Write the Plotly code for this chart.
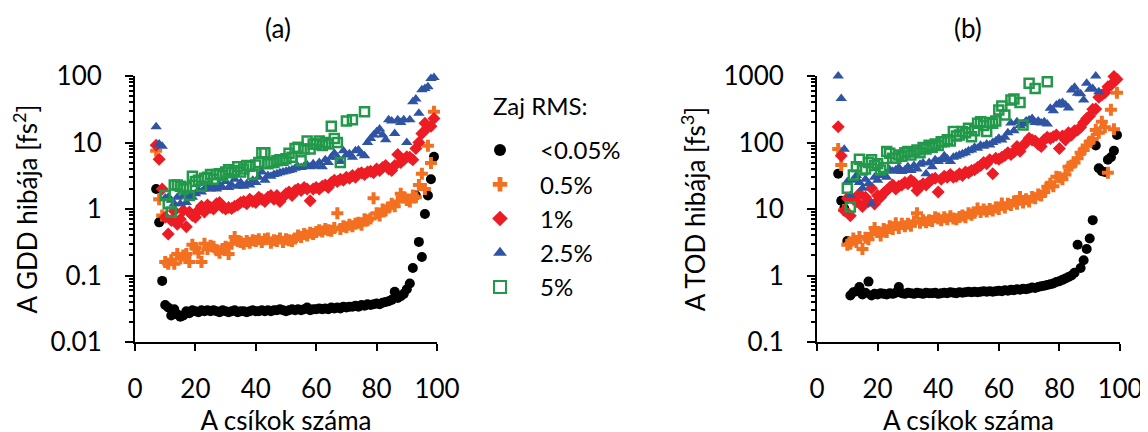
import plotly.graph_objects as go

# ---------------- data: panel (a) GDD error [fs^2] ----------------
x_a = list(range(7, 100))
gdd_black = [2.0, 0.63, 0.083, 0.036, 0.033, 0.025, 0.031, 0.026, 0.024, 0.025,
             0.029, 0.027, 0.030, 0.029, 0.028, 0.030, 0.029, 0.030, 0.029, 0.030,
             0.029, 0.028, 0.030, 0.029, 0.028, 0.029, 0.030, 0.028, 0.029, 0.029,
             0.028, 0.029, 0.030, 0.029, 0.029, 0.030, 0.029, 0.030, 0.029, 0.030,
             0.030, 0.031, 0.030, 0.029, 0.030, 0.031, 0.030, 0.031, 0.030, 0.031,
             0.033, 0.030, 0.031, 0.031, 0.032, 0.031, 0.032, 0.031, 0.033, 0.032,
             0.033, 0.032, 0.034, 0.033, 0.034, 0.034, 0.035, 0.034, 0.036, 0.035,
             0.037, 0.036, 0.037, 0.038, 0.037, 0.039, 0.040, 0.041, 0.043, 0.057,
             0.046, 0.049, 0.053, 0.062, 0.076, 0.13, 1.6, 0.32, 0.19, 0.84,
             1.6, 2.8, 6.1]
gdd_orange = [7.5, 1.4, 0.8, 0.16, 0.15, 0.17, 0.15, 0.21, 0.18, 0.20,
              0.21, 0.16, 0.29, 0.26, 0.22, 0.16, 0.30, 0.25, 0.28, 0.27,
              0.24, 0.22, 0.25, 0.27, 0.21, 0.30, 0.38, 0.33, 0.32, 0.30,
              0.33, 0.31, 0.34, 0.33, 0.35, 0.32, 0.35, 0.36, 0.31, 0.34,
              0.33, 0.36, 0.32, 0.35, 0.34, 0.33, 0.36, 0.40, 0.38, 0.42,
              0.40, 0.44, 0.42, 0.45, 0.48, 0.46, 0.50, 0.48, 0.47, 0.52,
              0.86, 0.50, 0.55, 0.53, 0.58, 0.55, 0.60, 0.62, 0.58, 0.70,
              0.68, 0.72, 1.45, 0.86, 0.80, 0.98, 0.95, 1.05, 1.2, 1.1,
              1.3, 1.7, 1.5, 1.37, 1.3, 1.6, 1.5, 2.3, 3.4, 2.0,
              8.9, 4.9, 29.0]
gdd_red = [9.1, 5.6, 2.0, 0.75, 0.42, 0.67, 0.93, 0.59, 0.70, 0.95,
           0.54, 0.90, 0.80, 0.75, 0.95, 1.10, 0.90, 1.15, 1.05, 1.00,
           1.20, 1.25, 1.05, 1.00, 1.05, 1.02, 1.10, 1.15, 1.25, 1.30,
           1.20, 1.40, 1.30, 1.25, 1.50, 1.40, 1.30, 1.50, 1.60, 1.40,
           1.60, 1.30, 1.50, 1.70, 1.80, 1.60, 1.90, 2.00, 1.90, 2.10,
           2.00, 1.33, 2.00, 2.10, 2.00, 2.20, 2.30, 2.10, 2.50, 2.70,
           2.60, 2.80, 2.70, 3.00, 2.90, 3.20, 3.00, 3.40, 3.50, 3.30,
           3.60, 3.70, 3.50, 4.00, 3.80, 4.20, 4.50, 4.00, 3.80, 4.50,
           6.60, 5.00, 5.50, 6.10, 6.00, 5.50, 8.10, 10.0, 13.7, 19.5,
           17.0, 17.5, 23.0]
gdd_blue = [17.3, 9.5, 8.8, 1.46, 1.5, 1.35, 1.2, 1.5, 1.2, 1.55,
            1.25, 1.6, 1.5, 1.7, 1.9, 1.8, 2.0, 2.2, 2.0, 2.1,
            2.0, 2.3, 2.1, 2.6, 2.1, 2.3, 2.8, 2.2, 2.5, 2.2,
            2.4, 2.3, 2.7, 2.5, 3.0, 3.6, 2.7, 3.2, 3.1, 3.3,
            3.4, 3.5, 3.6, 3.7, 3.8, 3.9, 4.1, 4.3, 4.2, 4.4,
            4.6, 4.3, 4.8, 4.4, 5.0, 4.3, 5.5, 5.0, 6.0, 6.9,
            6.0, 5.2, 7.5, 6.5, 6.8, 6.0, 7.5, 7.7, 6.8, 6.3,
            10.0, 11.5, 13.0, 14.5, 16.0, 13.0, 11.0, 22.0, 21.0, 13.7,
            22.0, 20.0, 22.0, 10.0, 22.0, 41.0, 45.0, 27.5, 62.0, 65.0,
            69.0, 92.0, 95.0]
x_a_green = list(range(10, 69)) + [70, 72, 76]
gdd_green = [1.6, 1.2, 0.9, 2.3, 2.3, 2.2, 2.0, 2.1, 1.6, 3.1,
             2.6, 2.7, 2.2, 2.9, 3.0, 3.3, 2.8, 3.3, 3.4, 3.2,
             3.6, 3.9, 3.5, 3.8, 4.3, 3.6, 4.0, 4.5, 4.4, 3.3,
             4.6, 5.0, 7.0, 7.0, 4.8, 5.0, 5.0, 5.3, 5.5, 5.4,
             5.7, 6.9, 6.0, 8.1, 8.5, 5.3, 8.0, 10.5, 8.0, 9.5,
             9.5, 10.5, 9.0, 10.0, 9.5, 17.5, 11.5, 10.0, 5.0,
             21.0, 22.0, 29.0]

# ---------------- data: panel (b) TOD error [fs^3] ----------------
x_b = list(range(7, 100))
tod_black = [34, 13.3, 10.2, 3.3, 0.50, 0.56, 0.58, 0.67, 0.52, 0.55,
             0.81, 0.50, 0.53, 0.52, 0.54, 0.53, 0.52, 0.54, 0.53, 0.55,
             0.67, 0.54, 0.53, 0.55, 0.54, 0.53, 0.55, 0.54, 0.53, 0.55,
             0.54, 0.54, 0.55, 0.53, 0.54, 0.55, 0.54, 0.56, 0.55, 0.54,
             0.56, 0.55, 0.56, 0.57, 0.56, 0.57, 0.56, 0.57, 0.58, 0.57,
             0.58, 0.57, 0.58, 0.59, 0.58, 0.60, 0.59, 0.61, 0.60, 0.62,
             0.61, 0.63, 0.62, 0.64, 0.66, 0.65, 0.67, 0.69, 0.70, 0.72,
             0.74, 0.76, 0.80, 0.82, 0.86, 0.90, 0.95, 1.0, 1.1, 2.9,
             1.3, 1.7, 2.5, 3.6, 6.8, 90, 41, 37, 36, 55,
             60, 75, 130]
tod_orange = [80, 46, 9.7, 2.9, 3.0, 3.6, 3.2, 3.8, 2.5, 3.7,
              3.5, 4.2, 5.2, 4.5, 4.0, 5.0, 4.5, 5.5, 5.0, 6.1,
              5.2, 6.0, 5.5, 6.0, 5.6, 6.5, 8.6, 6.2, 6.8, 6.3,
              6.8, 6.6, 7.5, 7.2, 6.8, 7.5, 7.0, 7.8, 7.2, 7.0,
              7.6, 8.0, 7.5, 8.6, 8.2, 8.8, 10.2, 9.0, 9.8, 9.2,
              10.0, 9.5, 10.5, 10.0, 12.1, 10.5, 12.0, 11.5, 13.0, 12.0,
              15.2, 12.5, 14.0, 13.0, 15.2, 14.5, 16.5, 16.0, 18.0, 21.6,
              24.0, 22.0, 30.6, 30.0, 28.0, 33.0, 43.0, 45.0, 50.0, 58.0,
              70.0, 77.0, 90.0, 103, 113, 154, 140, 205, 170, 35,
              310, 158, 560]
tod_red = [173, 63, 9.5, 14.5, 7.9, 14, 13, 17, 10.9, 15,
           13, 20.5, 11.9, 16, 15, 17.4, 19, 21, 23, 20,
           22, 23, 25, 24, 27, 25, 19, 22, 24, 23,
           26, 28, 29, 18, 28, 31, 30, 33, 30, 31,
           34, 32, 36, 35, 38, 39, 42, 45, 50, 48,
           55, 34, 58, 56, 60, 64, 70, 66, 72, 87,
           74, 90, 100, 116, 109, 105, 94, 87, 110, 120,
           115, 122, 130, 81, 125, 109, 140, 130, 150, 154,
           170, 200, 230, 250, 316, 320, 480, 518, 560, 690,
           730, 980, 890]
x_b_blue = list(range(7, 94))
tod_blue = [1000, 460, 79, 25.6, 16, 27, 32, 25, 20.5, 28,
            24, 12, 30, 27, 32.5, 32, 30, 39, 37, 38.5,
            42, 36.5, 38.5, 43, 38, 45, 40, 47, 49, 34,
            50, 43, 55, 52, 55, 63, 57, 52, 60, 62,
            65, 68, 70, 75, 77, 85, 82, 91, 88, 95,
            92, 100, 105, 116, 109, 120, 140, 196, 150, 205,
            180, 190, 210, 218, 230, 200, 210, 196, 205, 190,
            327, 300, 366, 388, 400, 366, 330, 616, 675, 550,
            540, 435, 776, 630, 650, 1000, 580]
x_b_green = list(range(10, 63)) + [64, 65, 67, 68, 70, 72, 76]
tod_green = [20.5, 10.7, 32.5, 43, 56, 38.5, 40, 50, 55, 45,
             48, 38.5, 42, 73, 69, 58, 58, 65, 62, 70,
             73, 65, 72, 77, 70, 84, 80, 91, 85, 95,
             90, 103, 103, 110, 105, 146, 125, 130, 146, 140,
             164, 122, 150, 194, 205, 180, 146, 200, 194, 210,
             308, 354, 260, 435, 450, 400, 184, 776, 650, 820]

series_names = ["<0.05%", "0.5%", "1%", "2.5%", "5%"]
series_colors = ["#000000", "#F37021", "#ED1C24", "#2E54A3", "#22994A"]
series_symbols = ["circle", "cross", "diamond", "triangle-up", "square-open"]
legend_title = "Zaj RMS:"

ytick_a = [0.01, 0.1, 1, 10, 100]
ytick_a_text = ["0.01", "0.1", "1", "10", "100"]
ytick_b = [0.1, 1, 10, 100, 1000]
ytick_b_text = ["0.1", "1", "10", "100", "1000"]
xtick_vals = [0, 20, 40, 60, 80, 100]

FONT = "Lato"
FS = 26
LFS = 24

panel_a = [(x_a, gdd_black), (x_a, gdd_orange), (x_a, gdd_red), (x_a, gdd_blue), (x_a_green, gdd_green)]
panel_b = [(x_b, tod_black), (x_b, tod_orange), (x_b, tod_red), (x_b_blue, tod_blue), (x_b_green, tod_green)]

fig = go.Figure()

def marker_for(i):
    if series_symbols[i] == "square-open":
        return dict(symbol="square-open", color=series_colors[i], size=9,
                    line=dict(width=2.5, color=series_colors[i]))
    return dict(symbol=series_symbols[i], color=series_colors[i], size=10,
                line=dict(width=0))

for i, (xs, ys) in enumerate(panel_a):
    fig.add_trace(go.Scatter(x=xs, y=ys, mode="markers", name=series_names[i],
                             marker=marker_for(i), xaxis="x", yaxis="y", cliponaxis=False,
                             legendgroup=series_names[i], showlegend=True))
for i, (xs, ys) in enumerate(panel_b):
    fig.add_trace(go.Scatter(x=xs, y=ys, mode="markers", name=series_names[i],
                             marker=marker_for(i), xaxis="x2", yaxis="y2", cliponaxis=False,
                             legendgroup=series_names[i], showlegend=False))

W, H = 1148, 432
OFF = 8      # page offset of the plot div
MB = 30      # bottom margin (px) so the x titles sit inside the page
HP = H - MB  # plot-area height
def fx(px):
    return (px - OFF) / W
def fy(py):
    return 1 - (py - OFF) / HP

tfont = dict(family=FONT, size=FS, color="black")
common_x = dict(range=[0, 100], tickvals=xtick_vals, ticks="outside", ticklen=7,
                tickwidth=2, tickcolor="black", showline=True, linewidth=2,
                linecolor="black", showgrid=False, zeroline=False,
                tickfont=tfont, ticklabelstandoff=16, automargin=False,
                title=dict(text="A csíkok száma", font=tfont, standoff=3))
common_y = dict(type="log", ticks="outside", ticklen=8, tickwidth=2, tickcolor="black",
                showline=True, linewidth=2, linecolor="black", showgrid=False,
                zeroline=False, tickfont=tfont, ticklabelstandoff=18, automargin=False,
                minor=dict(ticks="outside", ticklen=4, tickwidth=1.5, tickcolor="black",
                           dtick="D1", showgrid=False))

fig.update_layout(
    width=W, height=H,
    margin=dict(l=0, r=0, t=0, b=MB),
    paper_bgcolor="white", plot_bgcolor="white",
    font=tfont,
    xaxis=dict(domain=[fx(135), fx(437)], anchor="y", **common_x),
    xaxis2=dict(domain=[fx(817), fx(1120)], anchor="y2", **common_x),
    yaxis=dict(domain=[fy(342), fy(76)], anchor="x", range=[-2, 2],
               tickvals=ytick_a, ticktext=ytick_a_text,
               title=dict(text="A GDD hibája [fs<sup>2</sup>]", font=tfont, standoff=11),
               **common_y),
    yaxis2=dict(domain=[fy(342), fy(76)], anchor="x2", range=[-1, 3],
                tickvals=ytick_b, ticktext=ytick_b_text,
                title=dict(text="A TOD hibája [fs<sup>3</sup>]", font=tfont, standoff=10),
                **common_y),
    legend=dict(x=fx(460), y=fy(128), xanchor="left", yanchor="top",
                font=dict(family=FONT, size=LFS, color="black"),
                itemsizing="constant", itemwidth=70,
                bgcolor="rgba(0,0,0,0)", tracegroupgap=0),
    annotations=[
        dict(text="(a)", x=fx(278), y=fy(28), xref="paper", yref="paper",
             xanchor="center", yanchor="middle", showarrow=False, font=tfont),
        dict(text="(b)", x=fx(968), y=fy(28), xref="paper", yref="paper",
             xanchor="center", yanchor="middle", showarrow=False, font=tfont),
        dict(text=legend_title, x=fx(491), y=fy(105), xref="paper", yref="paper",
             xanchor="left", yanchor="middle", showarrow=False,
             font=dict(family=FONT, size=LFS, color="black")),
    ],
)

fig.write_html("out.html")
